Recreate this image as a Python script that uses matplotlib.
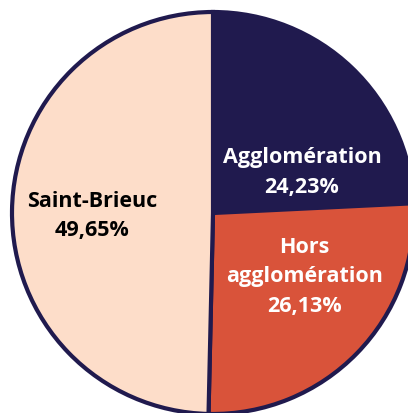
import matplotlib.pyplot as plt

labels = ['Agglomération', 'Hors\nagglomération', 'Saint-Brieuc']
shares = [24.23, 26.13, 49.65]
colors = ['#201A4E', '#D9533A', '#FDDDC9']
text_colors = ['white', 'white', 'black']
label_pos = [(0.443, 0.206), (0.455, -0.313), (-0.6, -0.01)]

plt.rcParams['font.family'] = ['Open Sans', 'DejaVu Sans']

fig = plt.figure(figsize=(4.08, 4.14), dpi=100)
# pie centre at about (213, 214) px, radius 201 px, slightly clipped right/bottom
ax = fig.add_axes([12 / 408, -1 / 414, 402 / 408, 402 / 414])
ax.pie(shares, colors=colors, startangle=90, counterclock=False, radius=1,
       wedgeprops=dict(edgecolor='#201A4E', linewidth=3))
ax.set_xlim(-1, 1)
ax.set_ylim(-1, 1)
ax.set_aspect('auto')
ax.axis('off')

for lab, val, (x, y), c in zip(labels, shares, label_pos, text_colors):
    txt = lab + '\n' + f'{val:.2f}'.replace('.', ',') + '%'
    ax.text(x, y, txt, ha='center', va='center', color=c, fontsize=15.5,
            fontweight='bold', linespacing=1.55)

fig.savefig('out.png', dpi=100)
